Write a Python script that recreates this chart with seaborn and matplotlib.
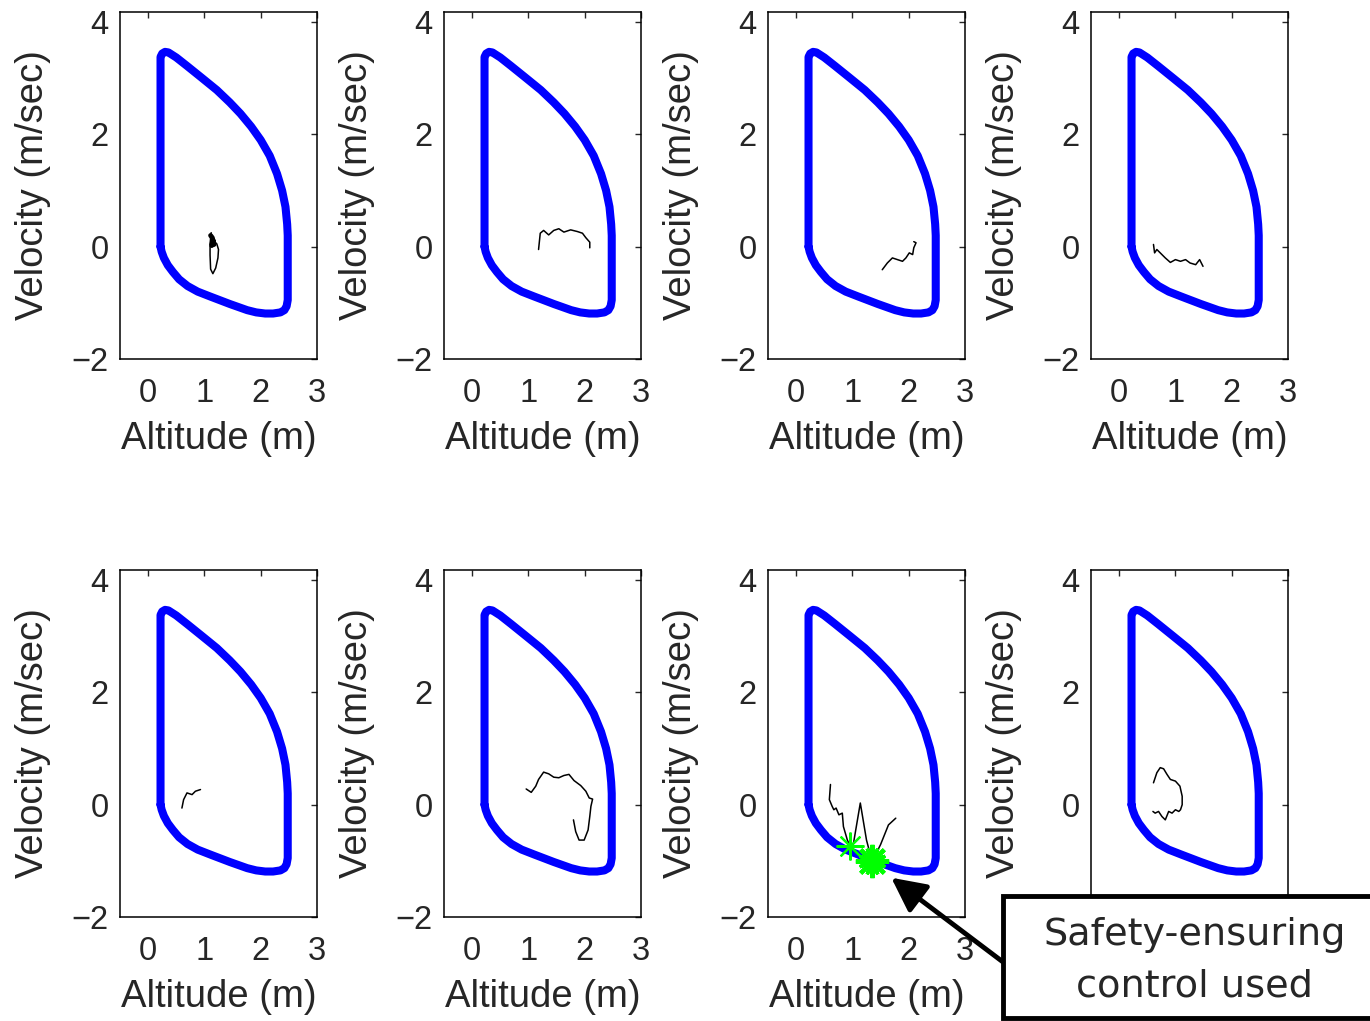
import numpy as np
import pandas as pd
import matplotlib
matplotlib.use("Agg")
import matplotlib.pyplot as plt
from matplotlib.patches import Rectangle
import seaborn as sns

# -----------------------------
# Data
# -----------------------------
# safe-set boundary (same in every panel)
bound_alt = [0.22, 0.22, 0.22, 0.22, 0.22, 0.25, 0.30, 0.36, 0.50, 0.69, 0.95, 1.22, 1.45, 1.64,
             1.83, 2.00, 2.16, 2.29, 2.38, 2.44, 2.47, 2.48, 2.48, 2.48, 2.46, 2.42, 2.35,
             2.22, 2.08, 1.92, 1.76, 1.45, 1.11, 0.88, 0.70, 0.55, 0.44, 0.35, 0.28, 0.24, 0.22]
bound_vel = [0.00, 1.00, 2.00, 3.00, 3.38, 3.44, 3.47, 3.46, 3.37, 3.22, 3.01, 2.79, 2.57, 2.37,
             2.14, 1.90, 1.62, 1.30, 1.00, 0.71, 0.40, 0.20, -0.50, -0.95, -1.06, -1.13, -1.17,
             -1.19, -1.19, -1.17, -1.13, -1.02, -0.89, -0.80, -0.70, -0.58, -0.45, -0.33, -0.20, -0.09, 0.00]

# trajectories, one list per panel
traj1_alt = [1.12, 1.10, 1.10, 1.11, 1.15, 1.20, 1.24, 1.25, 1.22, 1.17]
traj1_vel = [0.25, 0.05, -0.15, -0.40, -0.48, -0.38, -0.20, -0.05, 0.05, 0.10]
blob1_alt = [1.11, 1.14, 1.16, 1.13, 1.15, 1.17]
blob1_vel = [0.20, 0.16, 0.08, 0.02, 0.12, 0.04]

traj2_alt = [1.18, 1.21, 1.27, 1.36, 1.45, 1.54, 1.63, 1.75, 1.87, 1.96, 2.02, 2.09, 2.09]
traj2_vel = [-0.05, 0.24, 0.29, 0.21, 0.29, 0.32, 0.26, 0.30, 0.27, 0.24, 0.16, 0.08, -0.02]

traj3_alt = [1.53, 1.62, 1.71, 1.80, 1.89, 1.95, 2.01, 2.07, 2.09, 2.13, 2.09]
traj3_vel = [-0.41, -0.29, -0.20, -0.23, -0.26, -0.20, -0.11, -0.14, -0.02, 0.07, 0.09]

traj4_alt = [0.61, 0.63, 0.67, 0.73, 0.82, 0.91, 1.00, 1.09, 1.18, 1.26, 1.36, 1.43, 1.49]
traj4_vel = [0.04, -0.11, -0.05, -0.11, -0.20, -0.28, -0.23, -0.26, -0.23, -0.29, -0.32, -0.23, -0.35]

traj5_alt = [0.60, 0.63, 0.69, 0.78, 0.84, 0.93]
traj5_vel = [-0.06, 0.09, 0.21, 0.18, 0.24, 0.27]

traj6_alt = [0.96, 1.05, 1.13, 1.18, 1.27, 1.36, 1.45, 1.54, 1.63, 1.72, 1.81, 1.93, 2.02,
             2.08, 2.14, 2.11, 2.09, 2.06, 1.99, 1.90, 1.84, 1.80]
traj6_vel = [0.28, 0.22, 0.33, 0.45, 0.58, 0.55, 0.49, 0.48, 0.52, 0.54, 0.43, 0.34, 0.24,
             0.12, 0.10, -0.03, -0.21, -0.45, -0.63, -0.63, -0.48, -0.27]

traj7_alt = [0.61, 0.59, 0.64, 0.67, 0.71, 0.76, 0.82, 0.84, 0.91, 0.96,
             1.02, 1.14, 1.25, 1.35, 1.50, 1.64, 1.77]
traj7_vel = [0.36, 0.09, -0.03, -0.09, -0.06, -0.18, -0.15, -0.39, -0.63, -0.74,
             -0.68, 0.03, -0.63, -1.01, -0.71, -0.36, -0.24]
star_alt = [0.96, 1.35]
star_vel = [-0.74, -1.01]

traj8_alt = [0.61, 0.67, 0.73, 0.79, 0.85, 0.91, 1.00, 1.08, 1.12, 1.12, 1.09, 1.06, 1.00,
             0.94, 0.88, 0.82, 0.76, 0.70, 0.64, 0.60]
traj8_vel = [0.39, 0.57, 0.66, 0.64, 0.54, 0.45, 0.42, 0.33, 0.15, 0.00, -0.09, -0.12, -0.09,
             -0.15, -0.12, -0.27, -0.21, -0.12, -0.15, -0.12]

trajs = [(traj1_alt, traj1_vel), (traj2_alt, traj2_vel), (traj3_alt, traj3_vel),
         (traj4_alt, traj4_vel), (traj5_alt, traj5_vel), (traj6_alt, traj6_vel),
         (traj7_alt, traj7_vel), (traj8_alt, traj8_vel)]

x_ticks = [0, 1, 2, 3]
y_ticks = [-2, 0, 2, 4]
y_ticklabels = ["\u22122", "0", "2", "4"]

# -----------------------------
# Plot
# -----------------------------
sns.set_style("white")
plt.rcParams["font.family"] = ["Liberation Sans", "DejaVu Sans"]

W, H = 1370, 1021
fig = plt.figure(figsize=(W / 100, H / 100), dpi=100)

lefts = [120, 444, 768, 1091]
tops = [12, 570]
ax_w, ax_h = 197, 347

bound_df = pd.DataFrame({"alt": bound_alt, "vel": bound_vel})
axes = []
for r in range(2):
    for c in range(4):
        ax = fig.add_axes([lefts[c] / W, (H - tops[r] - ax_h) / H, ax_w / W, ax_h / H])
        axes.append(ax)
        sns.lineplot(data=bound_df, x="alt", y="vel", sort=False, estimator=None,
                     color="#0000ff", lw=5.8, ax=ax, solid_joinstyle="round")
        t_alt, t_vel = trajs[r * 4 + c]
        sns.lineplot(x=t_alt, y=t_vel, sort=False, estimator=None, color="black", lw=1.1, ax=ax)
        ax.set_xlim(-0.5, 3)
        ax.set_ylim(-2, 4.18)
        ax.set_xticks(x_ticks)
        ax.set_yticks(y_ticks)
        ax.set_yticklabels(y_ticklabels)
        ax.tick_params(direction="in", top=True, right=True, length=4, width=1, labelsize=23.5)
        ax.tick_params(axis="x", pad=14)
        ax.tick_params(axis="y", pad=8)
        for s in ax.spines.values():
            s.set_linewidth(1.1)
            s.set_color("black")
        ax.set_xlabel("Altitude (m)", fontsize=27.5, labelpad=8)
        ax.set_ylabel("Velocity (m/sec)", fontsize=27.5)
        ax.yaxis.set_label_coords(-0.35, 0.5)

# last panel's lower labels sit under the note box
axes[7].set_xticklabels([])
axes[7].set_xlabel("")
axes[7].set_yticklabels(["", "0", "2", "4"])

# panel 1 dense blob
sns.lineplot(x=blob1_alt, y=blob1_vel, sort=False, estimator=None, color="black", lw=3.5, ax=axes[0])

# panel 7 safety control stars
ax7 = axes[6]
ax7.plot(star_alt[0], star_vel[0], marker=(8, 2, 0), ms=20, mew=1.6, color="#00ff00", ls="none")
ax7.plot(star_alt[1], star_vel[1], marker=(8, 2, 0), ms=24, mew=3.0, color="#00ff00", ls="none")
ax7.plot(star_alt[1], star_vel[1], marker=(8, 2, 22.5), ms=20, mew=2.5, color="#00ff00", ls="none")

# annotation box + arrow
ax7.annotate("", xy=(1.69, -1.30), xycoords="data",
             xytext=(1003 / W, (H - 962) / H), textcoords="figure fraction",
             arrowprops=dict(arrowstyle="-|>,head_width=0.4,head_length=0.8", lw=3.5,
                             color="black", mutation_scale=26, shrinkA=0, shrinkB=0))
fig.add_artist(Rectangle((1003 / W, (H - 1018) / H), (1400 - 1003) / W, (1018 - 896) / H,
                         transform=fig.transFigure, fc="white", ec="black", lw=3.5, zorder=5))
fig.text(1195 / W, (H - 961) / H, "Safety-ensuring\ncontrol used", ha="center", va="center",
         fontsize=27.5, family="DejaVu Sans", linespacing=1.55, zorder=6)

plt.savefig("out.png", dpi=100)
